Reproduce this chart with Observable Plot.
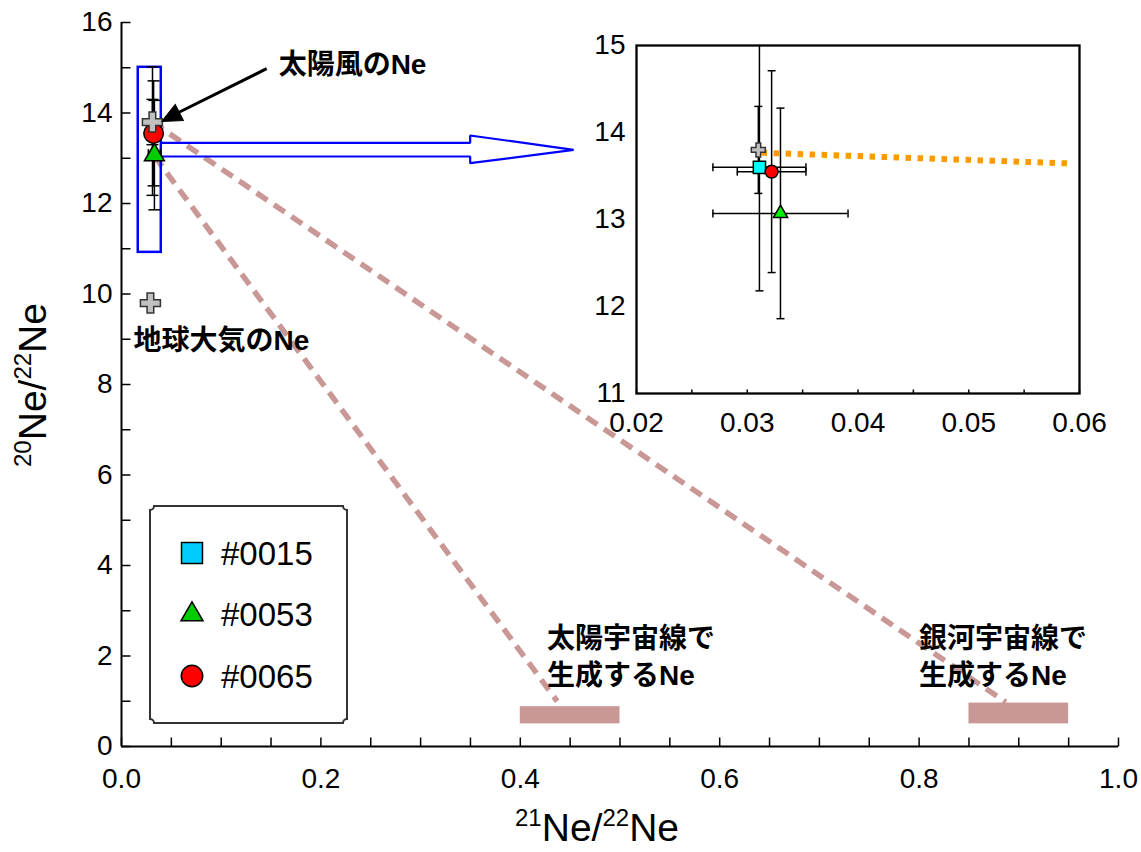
<!DOCTYPE html>
<html><head><meta charset="utf-8">
<script src="https://cdn.jsdelivr.net/npm/d3@7"></script>
<script src="https://cdn.jsdelivr.net/npm/@observablehq/plot@0.6"></script>
<style>
html,body{margin:0;padding:0;background:#fff;}
#wrap{position:relative;width:1141px;height:852px;overflow:hidden;}
#wrap > svg{position:absolute;}
</style></head><body><div id="wrap"></div>
<script>
// ---------- data ----------
const samples = ["#0015", "#0053", "#0065"];
const ne21 = [0.0311, 0.0330, 0.0322];       // 21Ne/22Ne
const ne21err = [0.0042, 0.0061, 0.0031];
const ne20 = [13.60, 13.07, 13.55];          // 20Ne/22Ne
const ne20err = [1.42, 1.21, 1.16];
const sampleSymbols = ["square", "triangle", "circle"];

const solarWind21 = [0.0310], solarWind20 = [13.80], solarWind20err = [0.50];
const air21 = [0.029], air20 = [9.80];

const solarCR21 = [0.40, 0.50], solarCR20 = [0.50, 0.88];
const galacticCR21 = [0.85, 0.95], galacticCR20 = [0.50, 0.96];

// mixing lines (start -> end)
const mixX1 = [0.031, 0.033], mixY1 = [13.80, 13.05];
const mixX2 = [0.887, 0.437], mixY2 = [0.98, 1.00];

// inset orange dotted line
const orange21 = [0.0313, 0.0592], orange20 = [13.767, 13.644];

// zoom box and block arrow (data coordinates)
const boxX = [0.0168, 0.0399], boxY = [10.92, 15.01];
const blockArrowX = [0.0402, 0.3497, 0.3497, 0.4535, 0.3497, 0.3497, 0.0402];
const blockArrowY = [13.341, 13.341, 13.503, 13.187, 12.891, 13.039, 13.039];
const pointerFrom = [0.1456, 14.98], pointerTo = [0.0562, 14.00], pointerTip = [0.0402, 13.81];

// tick labels
const mainXLabels = [0, 0.2, 0.4, 0.6, 0.8, 1.0];
const mainYLabels = [0, 2, 4, 6, 8, 10, 12, 14, 16];
const mainXTicks = [0,0.05,0.1,0.15,0.2,0.25,0.3,0.35,0.4,0.45,0.5,0.55,0.6,0.65,0.7,0.75,0.8,0.85,0.9,0.95,1.0];
const mainYTicks = [0,1,2,3,4,5,6,7,8,9,10,11,12,13,14,15,16];
const insetXLabels = [0.02, 0.03, 0.04, 0.05, 0.06];
const insetYLabels = [11, 12, 13, 14, 15];
const insetXTicks = [0.02,0.025,0.03,0.035,0.04,0.045,0.05,0.055,0.06];

// annotations
const annoText = ["太陽風のNe", "地球大気のNe", "太陽宇宙線で", "生成するNe", "銀河宇宙線で", "生成するNe"];
const annoX = [0.1576, 0.0120, 0.4267, 0.4267, 0.8000, 0.8000];
const annoY = [15.07, 8.97, 2.37, 1.55, 2.37, 1.55];

// ---------- helpers ----------
const FONT = "'Liberation Sans', Arial, Helvetica, sans-serif";
const JFONT = "'Liberation Sans', Arial, 'Noto Sans CJK JP', sans-serif";
const rad = s => Math.sqrt(s / Math.PI);
const capH = {draw(c, s) { const r = rad(s); c.moveTo(-r, 0); c.lineTo(r, 0); }};
const capV = {draw(c, s) { const r = rad(s); c.moveTo(0, -r); c.lineTo(0, r); }};
const tickRight = {draw(c, s) { const r = rad(s); c.moveTo(0, 0); c.lineTo(r, 0); }};
const tickUp = {draw(c, s) { const r = rad(s); c.moveTo(0, 0); c.lineTo(0, -r); }};
const headUp = {draw(c, s) { const r = rad(s); c.moveTo(0, 0); c.lineTo(-0.95 * r, 2.1 * r); c.lineTo(0.95 * r, 2.1 * r); c.closePath(); }};

const sampleData = samples.map((name, i) => ({name, x: ne21[i], xe: ne21err[i], y: ne20[i], ye: ne20err[i], symbol: sampleSymbols[i]}));
const swData = solarWind21.map((x, i) => ({x, y: solarWind20[i], ye: solarWind20err[i], xe: 0}));
const airData = air21.map((x, i) => ({x, y: air20[i]}));

function errorMarks(data, cap, extra = {}) {
  const st = {stroke: "black", strokeWidth: 1.5, ...extra};
  return [
    Plot.ruleX(data, {x: "x", y1: d => d.y - d.ye, y2: d => d.y + d.ye, ...st}),
    Plot.ruleY(data.filter(d => d.xe > 0), {y: "y", x1: d => d.x - d.xe, x2: d => d.x + d.xe, ...st}),
    Plot.dot(data, {x: "x", y: d => d.y + d.ye, symbol: capH, r: cap, fill: "none", ...st}),
    Plot.dot(data, {x: "x", y: d => d.y - d.ye, symbol: capH, r: cap, fill: "none", ...st}),
    Plot.dot(data.filter(d => d.xe > 0), {x: d => d.x - d.xe, y: "y", symbol: capV, r: cap, fill: "none", ...st}),
    Plot.dot(data.filter(d => d.xe > 0), {x: d => d.x + d.xe, y: "y", symbol: capV, r: cap, fill: "none", ...st})
  ];
}
function markerMarks(data, fills, rs, extra = {}) {
  return data.map((d, i) => Plot.dot([d], {x: "x", y: "y", symbol: d.symbol, r: rs[i], fill: fills[i], stroke: "black", strokeWidth: 1.5, ...extra}));
}

// ---------- main plot ----------
const mainMarks = [
  Plot.link(mixX1.map((x, i) => ({x1: x, y1: mixY1[i], x2: mixX2[i], y2: mixY2[i]})),
    {x1: "x1", y1: "y1", x2: "x2", y2: "y2", stroke: "#c99896", strokeWidth: 5.5, strokeDasharray: "13,8"}),
  Plot.rect([{x1: solarCR21[0], x2: solarCR21[1], y1: solarCR20[0], y2: solarCR20[1]},
             {x1: galacticCR21[0], x2: galacticCR21[1], y1: galacticCR20[0], y2: galacticCR20[1]}],
    {x1: "x1", x2: "x2", y1: "y1", y2: "y2", fill: "#c99896"}),
  Plot.ruleX([0], {stroke: "black", strokeWidth: 2}),
  Plot.ruleY([0], {stroke: "black", strokeWidth: 2}),
  Plot.dot(mainYTicks, {x: 0, y: d => d, symbol: tickRight, r: 9, stroke: "black", strokeWidth: 1.5}),
  Plot.dot(mainXTicks, {x: d => d, y: 0, symbol: tickUp, r: 9, stroke: "black", strokeWidth: 1.5}),
  Plot.axisY(mainYLabels, {tickSize: 0, tickPadding: 9, fontSize: 28, label: null, tickFormat: d => String(d)}),
  Plot.axisX(mainXLabels, {tickSize: 0, tickPadding: 22, fontSize: 28, label: null, tickFormat: d => d.toFixed(1)}),
  Plot.rect([{x1: boxX[0], x2: boxX[1], y1: boxY[0], y2: boxY[1]}], {x1: "x1", x2: "x2", y1: "y1", y2: "y2", fill: "none", stroke: "#0000ff", strokeWidth: 2.5}),
  Plot.line(blockArrowX.map((x, i) => ({x, y: blockArrowY[i]})), {x: "x", y: "y", stroke: "#0000ff", strokeWidth: 2.2, strokeLinejoin: "miter"}),
  ...errorMarks(sampleData, 6),
  ...errorMarks(swData, 6),
  ...markerMarks(sampleData, ["#00e5ff", "#00cc00", "#ff0000"], [5.4, 7.4, 9.8]),
  Plot.dot(swData, {x: "x", y: "y", symbol: "cross", r: 8.4, fill: "#c0c0c0", stroke: "#333", strokeWidth: 1.5}),
  Plot.dot(airData, {x: "x", y: "y", symbol: "cross", r: 8.4, fill: "#c0c0c0", stroke: "#333", strokeWidth: 1.5}),
  Plot.link([{x1: pointerFrom[0], y1: pointerFrom[1], x2: pointerTo[0], y2: pointerTo[1]}], {x1: "x1", y1: "y1", x2: "x2", y2: "y2", stroke: "black", strokeWidth: 3}),
  Plot.dot([{x: pointerTip[0], y: pointerTip[1]}], {x: "x", y: "y", symbol: headUp, r: 9.5, rotate: -117, fill: "black", stroke: "black", strokeWidth: 1}),
  Plot.text(annoText.map((t, i) => ({t, x: annoX[i], y: annoY[i]})), {x: "x", y: "y", text: "t", textAnchor: "start", fontSize: 28, fontWeight: "bold", fontFamily: JFONT, fill: "black"})
];

const main = Plot.plot({
  width: 1141, height: 852,
  marginLeft: 121, marginRight: 23, marginTop: 22, marginBottom: 106,
  x: {domain: [0, 1], label: null}, y: {domain: [0, 16], label: null},
  style: {fontFamily: FONT, background: "transparent", overflow: "visible"},
  marks: mainMarks
});
main.style.left = "0px"; main.style.top = "0px";
document.getElementById("wrap").appendChild(main);

// axis titles with superscripts
function title(svg, x, y, rot, a, b) {
  const t = d3.select(svg).append("text")
    .attr("transform", `translate(${x},${y}) rotate(${rot})`)
    .attr("text-anchor", "middle").attr("font-family", FONT).attr("font-size", 39).attr("fill", "black");
  t.append("tspan").attr("font-size", 24).attr("dy", -15).text(a);
  t.append("tspan").attr("dy", 15).text("Ne/");
  t.append("tspan").attr("font-size", 24).attr("dy", -15).text(b);
  t.append("tspan").attr("dy", 15).text("Ne");
}
title(main, 597, 841, 0, "21", "22");
title(main, 46, 385, -90, "20", "22");

// ---------- inset ----------
const inset = Plot.plot({
  width: 523, height: 408,
  marginLeft: 50, marginRight: 30, marginTop: 15, marginBottom: 45,
  x: {domain: [0.02, 0.06], label: null}, y: {domain: [11, 15], label: null},
  style: {fontFamily: FONT, background: "transparent", overflow: "visible"},
  marks: [
    Plot.dot(insetXTicks, {x: d => d, y: 11, symbol: tickUp, r: 4, stroke: "black", strokeWidth: 1.5}),
    Plot.axisY(insetYLabels, {tickSize: 0, tickPadding: 11, fontSize: 28, label: null, tickFormat: d => String(d)}),
    Plot.axisX(insetXLabels, {tickSize: 0, tickPadding: 19, fontSize: 28, label: null, tickFormat: d => d.toFixed(2)}),
    Plot.line(orange21.map((x, i) => ({x, y: orange20[i]})), {x: "x", y: "y", stroke: "#ff9900", strokeWidth: 6, strokeDasharray: "5.5,6.5", strokeLinecap: "butt", clip: true}),
    ...errorMarks(sampleData, 4, {clip: true}),
    ...errorMarks(swData, 4, {clip: true}),
    Plot.dot(swData, {x: "x", y: "y", symbol: "cross", r: 5.9, fill: "#c0c0c0", stroke: "#333", strokeWidth: 1.5}),
    ...markerMarks(sampleData, ["#00ffff", "#00ee00", "#ff0000"], [6.9, 5.3, 6.4]),
    Plot.frame({stroke: "black", strokeWidth: 2.3})
  ]
});
inset.style.left = "586px"; inset.style.top = "30px";
document.getElementById("wrap").appendChild(inset);

// ---------- legend ----------
const legendFills = ["#00ccff", "#00cc00", "#ff0000"];
const lw = 197, lh = 217, n = 4;
const lg = d3.create("svg").attr("width", lw + 4).attr("height", lh + 4)
  .style("left", "148px").style("top", "504px");
const g = lg.append("g").attr("transform", "translate(2,2)");
g.append("path")
  .attr("d", `M${n},0H${lw - n}A${n},${n} 0 0 0 ${lw},${n}V${lh - n}A${n},${n} 0 0 0 ${lw - n},${lh}H${n}A${n},${n} 0 0 0 0,${lh - n}V${n}A${n},${n} 0 0 0 ${n},0Z`)
  .attr("fill", "white").attr("stroke", "#333").attr("stroke-width", 2);
const symMap = {square: d3.symbolSquare, triangle: d3.symbolTriangle, circle: d3.symbolCircle};
const symSize = {square: 440, triangle: 210, circle: 360};
samples.forEach((s, i) => {
  const cy = 47 + i * 61.5;
  g.append("path").attr("transform", `translate(42,${cy})`)
    .attr("d", d3.symbol(symMap[sampleSymbols[i]], symSize[sampleSymbols[i]])())
    .attr("fill", legendFills[i]).attr("stroke", "black").attr("stroke-width", 1.5);
  g.append("text").attr("x", 71).attr("y", cy).attr("dy", "0.36em")
    .attr("font-family", FONT).attr("font-size", 33).attr("fill", "black").text(s);
});
document.getElementById("wrap").appendChild(lg.node());
</script></body></html>
